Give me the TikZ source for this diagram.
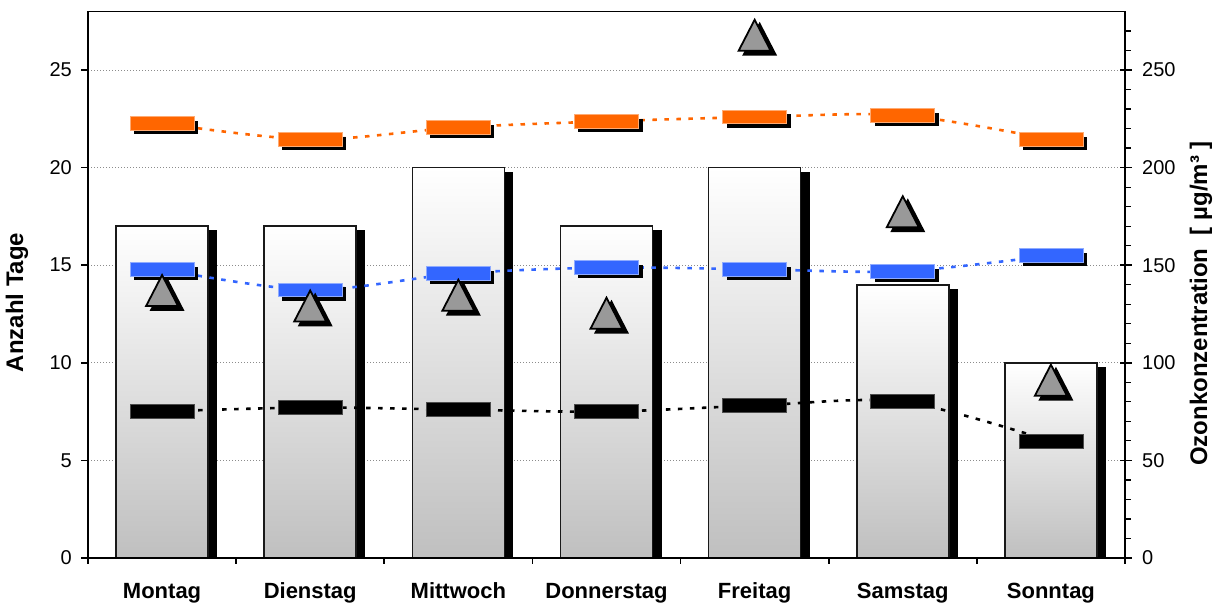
\documentclass[tikz,border=0pt]{standalone}
\usepackage{fontspec}
\setmainfont{Liberation Sans}
\usetikzlibrary{shadows}
\definecolor{oran}{HTML}{FF6600}
\definecolor{blu}{HTML}{3366FF}
\definecolor{trigray}{HTML}{999999}
\newcommand\mytri[1]{%
  \filldraw[black, line width=1.8pt, line join=miter] ([shift={(-11pt,-19.5pt)}]#1) -- ([shift={(21pt,-19.5pt)}]#1) -- ([shift={(5pt,11.5pt)}]#1) -- cycle;
  \filldraw[fill=trigray, draw=black, line width=1.8pt, line join=miter] ([shift={(-16pt,-15.5pt)}]#1) -- ([shift={(16pt,-15.5pt)}]#1) -- ([shift={(0pt,15.5pt)}]#1) -- cycle;}
\begin{document}
\begin{tikzpicture}[x=1pt,y=1pt,
  ticklab/.style={font=\fontsize{20}{24}\selectfont, inner sep=0pt},
  daylab/.style={font=\bfseries\fontsize{22}{26}\selectfont, inner sep=0pt, anchor=base},
  titlab/.style={font=\bfseries\fontsize{24}{28}\selectfont, inner sep=0pt, rotate=90},
  gridline/.style={draw=black!45, line width=0.9pt, dash pattern=on 1pt off 2pt},
  barbox/.style={top color=white, bottom color=black!25, draw=black!90, line width=1.6pt},
  axisline/.style={draw=black, line width=1.6pt},
  minortick/.style={draw=black, line width=1.2pt},
  mkbase/.style={rectangle, minimum width=64pt, minimum height=13.5pt, inner sep=0pt, line width=0.8pt},
  shad/.style={general shadow={fill=black, shadow xshift=4pt, shadow yshift=-4pt}},
  omark/.style={mkbase, shad, fill=oran, draw=oran!55!white},
  bmark/.style={mkbase, shad, fill=blu, draw=blu!55!white},
  kmark/.style={mkbase, fill=black, draw=black!70},
  serline/.style={line width=2.6pt, dash pattern=on 4.5pt off 7.5pt},
]
\useasboundingbox (0,0) rectangle (1222,603);
\fill[white] (0,0) rectangle (1222,603);
\begin{scope}[yshift=45pt, y=19.52pt]
  % grid
  \foreach \v in {5,10,...,25} {\draw[gridline] (88,\v) -- (1125,\v);}
  % bars
  \foreach \c/\h in {162.07/17, 310.21/17, 458.35/20, 606.49/17, 754.63/20, 902.77/14, 1050.91/10} {
    \fill[black] (\c-37,0) rectangle (\c+55,\h-0.205);
    \draw[barbox] (\c-46,0) rectangle (\c+46,\h);
  }
  % axes frame
  \draw[axisline] (88,0) rectangle (1125,28);
  \foreach \v in {0,5,...,25} {
    \draw[axisline] (81,\v) -- (88,\v);
    \draw[axisline] (1120,\v) -- (1132,\v);
    \node[ticklab, anchor=east] (l\v) at (72,\v) {\v};
    \pgfmathtruncatemacro\rv{\v*10}
    \node[ticklab, anchor=west] (r\v) at (1142,\v) {\rv};
  }
  \foreach \v in {1,...,27} {\draw[minortick] (1125,\v) -- (1131,\v);}
  \foreach \k in {0,...,7} {\draw[axisline] (88+148.14*\k,0) -- ++(0pt,-6pt);}
  % day labels
  \foreach \c/\d [count=\i] in {162.07/Montag, 310.21/Dienstag, 458.35/Mittwoch, 606.49/Donnerstag, 754.63/Freitag, 902.77/Samstag, 1050.91/Sonntag}
    {\node[daylab] (d\i) at (\c,-2.049) {\d};}
  % series coordinates
  \foreach \c/\o/\b/\k/\t [count=\i] in {
      162.07/22.27/14.79/7.51/13.70,
      310.21/21.44/13.73/7.71/12.91,
      458.35/22.06/14.57/7.60/13.46,
      606.49/22.37/14.88/7.50/12.54,
      754.63/22.59/14.79/7.81/26.78,
      902.77/22.68/14.69/8.01/17.74,
      1050.91/21.44/15.50/5.98/9.11} {
    \coordinate (o\i) at (\c,\o);
    \coordinate (b\i) at (\c,\b);
    \coordinate (k\i) at (\c,\k);
    \coordinate (t\i) at (\c,\t);
  }
  % connecting lines
  \draw[serline, oran] plot[smooth, tension=0.5] coordinates {(o1) (o2) (o3) (o4) (o5) (o6) (o7)};
  \draw[serline, blu] plot[smooth, tension=0.5] coordinates {(b1) (b2) (b3) (b4) (b5) (b6) (b7)};
  \draw[serline, black] plot[smooth, tension=0.5] coordinates {(k1) (k2) (k3) (k4) (k5) (k6) (k7)};
  % markers
  \foreach \i in {1,...,7} {
    \node[omark] (om\i) at (o\i) {};
    \node[bmark] (bm\i) at (b\i) {};
    \node[kmark] (km\i) at (k\i) {};
  }
  \foreach \i in {1,...,7} {\mytri{t\i}}
\end{scope}
% axis titles
\node[titlab] (ytitle) at (17,300.5) {Anzahl Tage};
\node[titlab] (y2title) at (1201,299.5) {Ozonkonzentration~~[ µg/m³ ]};
\end{tikzpicture}
\end{document}
